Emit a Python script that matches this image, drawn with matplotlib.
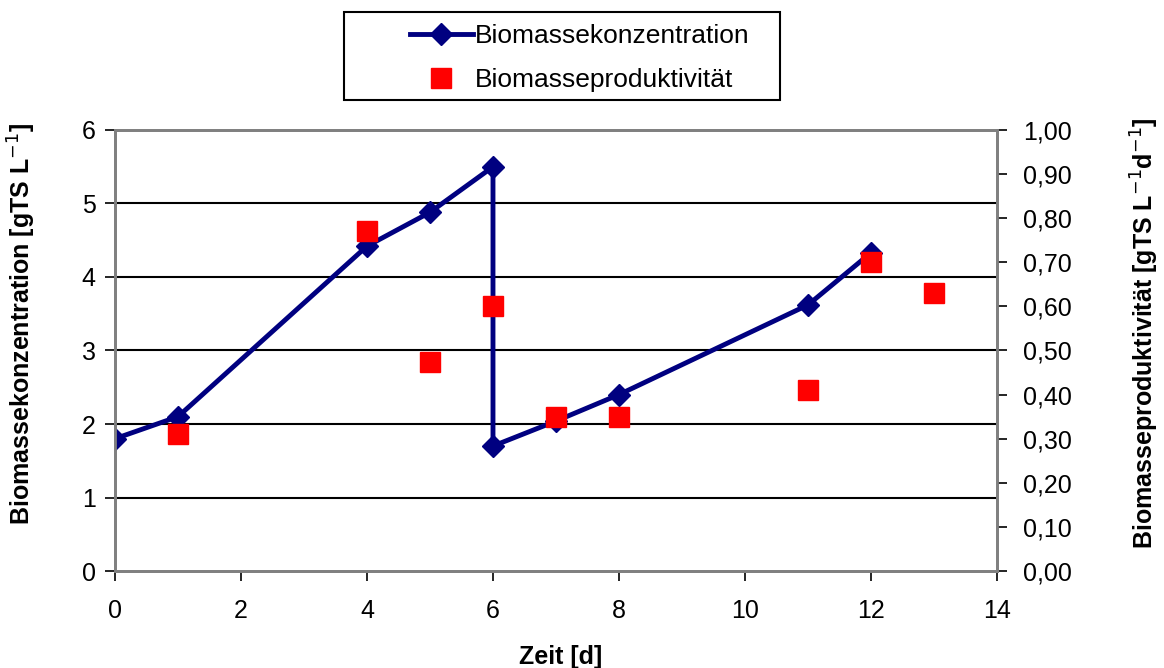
import matplotlib.pyplot as plt
from matplotlib.patches import Rectangle
from matplotlib.ticker import FuncFormatter

plt.rcParams['font.family'] = ['Liberation Sans', 'DejaVu Sans']

# Biomassekonzentration (linke Achse), Verdünnung bei Tag 6
zeit_konz = [0, 1, 4, 5, 6, 6, 7, 8, 11, 12]
konzentration = [1.80, 2.10, 4.42, 4.88, 5.50, 1.70, 2.04, 2.40, 3.62, 4.33]

# Biomasseproduktivität (rechte Achse)
zeit_prod = [1, 4, 5, 6, 7, 8, 11, 12, 13]
produktivitaet = [0.31, 0.77, 0.475, 0.60, 0.35, 0.35, 0.41, 0.70, 0.63]

navy = '#000080'
grau = '#808080'

fig = plt.figure(figsize=(11.64, 6.68), dpi=100)
ax = fig.add_axes([0.0988, 0.1452, 0.7577, 0.6602])
ax2 = ax.twinx()

ax.plot(zeit_konz, konzentration, color=navy, lw=3.5, marker='D',
        markersize=11, label='Biomassekonzentration', zorder=3)
ax2.plot(zeit_prod, produktivitaet, ls='none', marker='s', color='#ff0000',
         markersize=14, label='Biomasseproduktivität', zorder=4)

ax.set_xlim(0, 14)
ax.set_ylim(0, 6)
ax2.set_ylim(0, 1.0)
ax.set_xticks(range(0, 15, 2))
ax.set_yticks(range(0, 7))
ax2.set_yticks([i / 10 for i in range(11)])
ax2.yaxis.set_major_formatter(FuncFormatter(lambda v, p: f'{v:.2f}'.replace('.', ',')))

for y in range(1, 6):
    ax.axhline(y, color='black', lw=1.5, zorder=1)

for a in (ax, ax2):
    for s in a.spines.values():
        s.set_color(grau)
        s.set_linewidth(2)
    a.tick_params(labelsize=18, length=7, width=1.2, color='black')
ax.tick_params(axis='x', pad=13)
ax.tick_params(axis='y', pad=7)
ax2.tick_params(axis='y', pad=12)

ax.set_xlabel('Zeit [d]', fontsize=18, fontweight='bold')
ax.xaxis.set_label_coords(0.505, -0.168)
ax.set_ylabel('Biomassekonzentration [gTS L$^{-1}$]', fontsize=18,
              fontweight='bold')
ax.yaxis.set_label_coords(-0.087, 0.56)
ax2.set_ylabel('Biomasseproduktivität [gTS L$^{-1}$d$^{-1}$]', fontsize=18,
               fontweight='bold')
ax2.yaxis.set_label_coords(1.149, 0.54)

# Legendenrahmen oberhalb der Achsen
fig.patches.append(Rectangle((0.2955, 0.8503), 0.3746, 0.1317,
                             transform=fig.transFigure, facecolor='white',
                             edgecolor='black', lw=1.5))
h1, l1 = ax.get_legend_handles_labels()
h2, l2 = ax2.get_legend_handles_labels()
fig.legend(h1 + h2, l1 + l2, loc='center left',
           bbox_to_anchor=(0.352, 0.913), fontsize=19, frameon=False,
           borderpad=0, borderaxespad=0, labelspacing=0.75,
           handlelength=2.4, handletextpad=0.05)

fig.savefig('out.png', dpi=100)
